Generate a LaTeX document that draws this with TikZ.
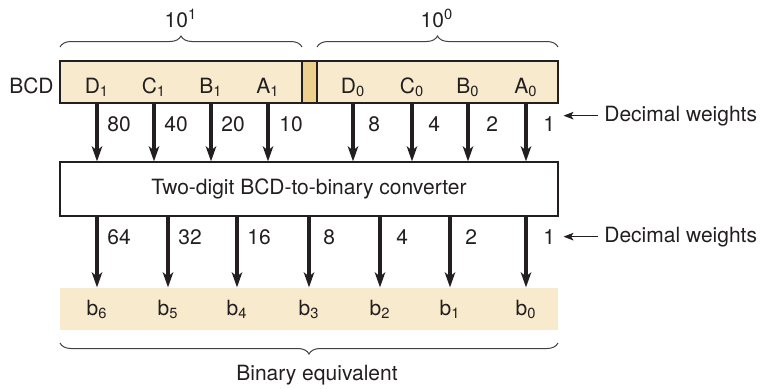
\documentclass[tikz,border=0pt]{standalone}
\usepackage{fontspec}
\setmainfont{TeX Gyre Heros}
\usetikzlibrary{arrows.meta,decorations.pathreplacing}
\definecolor{barfill}{HTML}{F8EBCD}
\definecolor{sepfill}{HTML}{EDD08E}
\definecolor{ink}{HTML}{231F20}
\begin{document}
\begin{tikzpicture}[x=0.5pt,y=-0.5pt,
  every node/.style={font=\fontsize{10.5}{12}\selectfont,text=ink},
  bar/.style={fill=barfill,minimum height=21pt,inner sep=0,line width=0.6pt},
  bit/.style={anchor=base,inner sep=0},
  weight/.style={anchor=base west,inner sep=0},
  wire/.style={ink,line width=1.7pt,-{Stealth[length=7.5pt,width=5.2pt,inset=2pt]}},
  pointer/.style={ink,line width=0.65pt,-{Stealth[length=5pt,width=3.8pt,inset=1.2pt]},shorten <=3pt,shorten >=4pt},
  curly/.style={ink!85,line width=0.5pt,decorate,decoration={brace,amplitude=5.5pt}}]
  \useasboundingbox (0,0) rectangle (760,388);
  % BCD input register
  \node[bar,draw=ink,minimum width=121pt] (hi) at (181,82) {};
  \node[bar,draw=ink,fill=sepfill,minimum width=7.5pt] (sep) at (309.5,82) {};
  \node[bar,draw=ink,minimum width=120.5pt] (lo) at (437.5,82) {};
  \node[anchor=base east,inner sep=0] (bcd) at (54,93) {BCD};
  \foreach \n/\t/\s/\x in {D1/D/1/97,C1/C/1/154,B1/B/1/211,A1/A/1/268}
    \node[bit] (\n) at (\x,93) {\t\textsubscript{\s}};
  \foreach \n/\t/\s/\x in {D0/D/0/353,C0/C/0/412,B0/B/0/468,A0/A/0/526}
    \node[bit] (\n) at (\x,93) {\t\textsubscript{\s}};
  % decades
  \draw[curly] (60,47) -- (302,47);
  \draw[curly] (317,47) -- (558,47);
  \node[bit] (tens) at (181,27) {10\textsuperscript{1}};
  \node[bit] (units) at (437,27) {10\textsuperscript{0}};
  % converter
  \node[draw=ink,line width=0.6pt,minimum width=249pt,minimum height=27pt] (conv) at (309,189) {Two-digit BCD-to-binary converter};
  \foreach \n in {D1,C1,B1,A1}
    \draw[wire] (\n |- hi.south) -- (\n |- conv.north);
  \foreach \n in {D0,C0,B0,A0}
    \draw[wire] (\n |- lo.south) -- (\n |- conv.north);
  \foreach \w/\x in {80/107,40/164,20/221,10/279,8/368,4/428,2/486}
    \node[weight] at (\x,131) {\w};
  \node[weight] (w1top) at (543,131) {1};
  \node[weight] (dwtop) at (604,121) {Decimal weights};
  \draw[pointer] (dwtop.west) -- (dwtop.west -| w1top.east);
  % binary output
  \node[bar,minimum width=249pt] (out) at (309,309) {};
  \foreach \n/\s/\x in {b6/6/97,b5/5/168,b4/4/237,b3/3/309,b2/2/380,b1/1/450,b0/0/526}
    \node[bit] (\n) at (\x,315) {b\textsubscript{\s}};
  \foreach \n in {b6,b5,b4,b3,b2,b1,b0}
    \draw[wire] (\n |- conv.south) -- (\n |- out.north);
  \foreach \w/\x in {64/107,32/178,16/247,8/323,4/396,2/465}
    \node[weight] at (\x,244) {\w};
  \node[weight] (w1bot) at (543,244) {1};
  \node[weight] (dwbot) at (604,242) {Decimal weights};
  \draw[pointer] (dwbot.west) -- (dwbot.west -| w1bot.east);
  \draw[curly] (558,343) -- (60,343);
  \node[bit] (bineq) at (317,380) {Binary equivalent};
\end{tikzpicture}
\end{document}
